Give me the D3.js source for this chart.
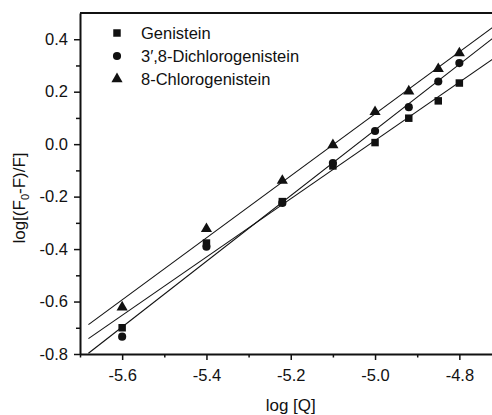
<!DOCTYPE html>
<html>
<head>
<meta charset="utf-8">
<script src="https://cdn.jsdelivr.net/npm/d3@7"></script>
<style>
  body { margin: 0; background: #fff; }
  svg { display: block; font-family: "Liberation Sans", Arial, sans-serif; }
</style>
</head>
<body>
<div id="chart"></div>
<script>
// log [Q] values
const logQ = [-5.6, -5.4, -5.22, -5.1, -5.0, -4.92, -4.85, -4.8];

const seriesNames = ['Genistein', "3\u2032,8-Dichlorogenistein", '8-Chlorogenistein'];
const genistein    = [-0.70, -0.377, -0.219, -0.083, 0.006, 0.099, 0.165, 0.233];
const dichloro     = [-0.734, -0.391, -0.224, -0.072, 0.050, 0.141, 0.239, 0.309];
const chloro       = [-0.622, -0.323, -0.139, -0.003, 0.123, 0.202, 0.287, 0.347];

const xTicks = [-5.6, -5.4, -5.2, -5.0, -4.8];
const xMinor = [-5.7, -5.5, -5.3, -5.1, -4.9, -4.7];
const yTicks = [-0.8, -0.6, -0.4, -0.2, 0.0, 0.2, 0.4];
const yMinor = [-0.7, -0.5, -0.3, -0.1, 0.1, 0.3];
const fitRange = [-5.68, -4.7];

const width = 492, height = 415;
const x0 = 80, x1 = 501.5, y0 = 354, y1 = 13;

const svg = d3.select('#chart').append('svg')
  .attr('width', width)
  .attr('height', height);

const x = d3.scaleLinear().domain([-5.7, -4.7]).range([x0, x1]);
const y = d3.scaleLinear().domain([-0.8, 0.5]).range([y0, y1]);

// least squares fit for each series
function fit(xs, ys) {
  const mx = d3.mean(xs), my = d3.mean(ys);
  let sxy = 0, sxx = 0;
  xs.forEach((v, i) => { sxy += (v - mx) * (ys[i] - my); sxx += (v - mx) * (v - mx); });
  const b = sxy / sxx;
  return v => my + b * (v - mx);
}

svg.append('defs').append('clipPath').attr('id', 'plot')
  .append('rect').attr('x', x0).attr('y', y1).attr('width', x1 - x0).attr('height', y0 - y1);

const series = [
  { name: seriesNames[0], vals: genistein, sym: d3.symbolSquare, size: 56 },
  { name: seriesNames[1], vals: dichloro, sym: d3.symbolCircle, size: 52 },
  { name: seriesNames[2], vals: chloro, sym: d3.symbolTriangle, size: 54 }
];

const plot = svg.append('g').attr('clip-path', 'url(#plot)');

series.forEach(s => {
  const f = fit(logQ, s.vals);
  plot.append('line')
    .attr('x1', x(fitRange[0])).attr('y1', y(f(fitRange[0])))
    .attr('x2', x(fitRange[1])).attr('y2', y(f(fitRange[1])))
    .attr('stroke', '#111').attr('stroke-width', 1.1);
  plot.selectAll(null)
    .data(s.vals)
    .enter().append('path')
    .attr('d', d3.symbol().type(s.sym).size(s.size))
    .attr('transform', (d, i) => `translate(${x(logQ[i])},${y(d)})`)
    .attr('fill', '#111');
});

// axes
const xAxis = svg.append('g').attr('transform', `translate(0,${y0})`)
  .call(d3.axisBottom(x).tickValues(xTicks).tickSize(6).tickSizeOuter(0)
    .tickFormat(d3.format('.1f')));
xAxis.selectAll('.tick text').attr('dy', null).attr('y', 27).style('font-size', '16.5px')
  .text(d => d3.format('.1f')(d).replace('\u2212', '-'));

svg.append('g').attr('transform', `translate(0,${y0})`)
  .call(d3.axisBottom(x).tickValues(xMinor).tickSize(3.5).tickFormat('').tickSizeOuter(0))
  .select('.domain').remove();

const yAxis = svg.append('g').attr('transform', `translate(${x0},0)`)
  .call(d3.axisLeft(y).tickValues(yTicks).tickSize(6).tickSizeOuter(0)
    .tickFormat(d3.format('.1f')));
yAxis.selectAll('.tick text').attr('x', -12).style('font-size', '16.5px')
  .text(d => d3.format('.1f')(d).replace('\u2212', '-'));

svg.append('g').attr('transform', `translate(${x0},0)`)
  .call(d3.axisLeft(y).tickValues(yMinor).tickSize(4).tickFormat('').tickSizeOuter(0))
  .select('.domain').remove();

svg.selectAll('.domain').attr('stroke', '#111').attr('stroke-width', 2);
svg.selectAll('.tick line').attr('stroke', '#111').attr('stroke-width', 1.5);
svg.selectAll('.tick text').attr('fill', '#111');

// top frame
svg.append('line')
  .attr('x1', x0).attr('x2', x1).attr('y1', y1).attr('y2', y1)
  .attr('stroke', '#111').attr('stroke-width', 2);

// axis titles
svg.append('text')
  .attr('x', (x0 + x1) / 2).attr('y', 411)
  .attr('text-anchor', 'middle')
  .style('font-size', '17px').attr('fill', '#111')
  .text('log [Q]');

const yt = svg.append('text')
  .attr('transform', 'translate(25,198) rotate(-90)')
  .attr('text-anchor', 'middle')
  .style('font-size', '17px').attr('fill', '#111');
yt.append('tspan').text('log[(F');
yt.append('tspan').attr('baseline-shift', '-35%').style('font-size', '11px').text('0');
yt.append('tspan').text('-F)/F]');

// legend
const legend = svg.append('g');
series.forEach((s, i) => {
  const ly = 33 + i * 23;
  legend.append('path')
    .attr('d', d3.symbol().type(s.sym).size(s.size))
    .attr('transform', `translate(117,${ly})`)
    .attr('fill', '#111');
  legend.append('text')
    .attr('x', 141).attr('y', ly + 6)
    .style('font-size', '16.5px').attr('fill', '#111')
    .text(s.name);
});
</script>
</body>
</html>
